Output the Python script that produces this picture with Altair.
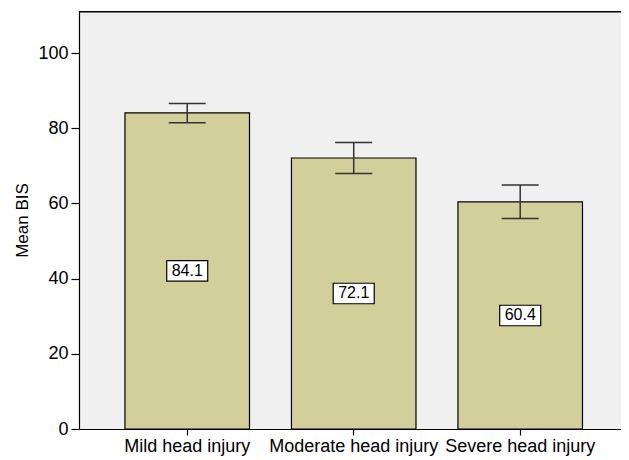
import altair as alt
import pandas as pd

categories = ["Mild head injury", "Moderate head injury", "Severe head injury"]
means = [84.1, 72.1, 60.4]
ci_low = [81.5, 68.0, 56.0]
ci_high = [86.6, 76.2, 64.9]
labels = ["84.1", "72.1", "60.4"]
y_ticks = [0, 20, 40, 60, 80, 100]

df = pd.DataFrame({
    "group": categories,
    "mean": means,
    "low": ci_low,
    "high": ci_high,
    "label": labels,
    "half": [m / 2 for m in means],
})

FONT = "Liberation Sans"
W, H = 542, 418

xs = alt.Scale(paddingInner=0.252, paddingOuter=0.2537, align=0.544)
x = alt.X("group:N", sort=categories, scale=xs,
          axis=alt.Axis(title=None, labelAngle=0, labelFontSize=18, labelColor="black",
                        labelFont=FONT, labelPadding=2, tickSize=6, tickColor="black",
                        domainColor="black", domainWidth=1.2, tickWidth=1.2, grid=False))
xo = alt.X("group:N", sort=categories, scale=xs)
yscale = alt.Scale(domain=[0, 111.2], nice=False, zero=True)

base = alt.Chart(df)

bars = base.mark_bar(fill="#D3CF9A", stroke="black", strokeWidth=1.2).encode(
    x=x,
    y=alt.Y("mean:Q", scale=yscale,
            axis=alt.Axis(title="Mean BIS", values=y_ticks, tickSize=8,
                          labelFontSize=18, labelColor="black", labelFont=FONT, labelPadding=3,
                          titleFontSize=17, titleFont=FONT, titleFontWeight="normal",
                          titleColor="black", titlePadding=6, grid=False,
                          domainColor="black", domainWidth=1.2, tickColor="black", tickWidth=1.2)),
)

err = base.mark_rule(color="#333333", strokeWidth=1.5).encode(
    x=xo, y=alt.Y("low:Q", scale=yscale), y2="high:Q")
cap_lo = base.mark_tick(orient="horizontal", size=37, thickness=1.5, color="#333333", opacity=1).encode(
    x=xo, y=alt.Y("low:Q", scale=yscale))
cap_hi = base.mark_tick(orient="horizontal", size=37, thickness=1.5, color="#333333", opacity=1).encode(
    x=xo, y=alt.Y("high:Q", scale=yscale))

boxes = base.mark_point(shape="M-1,-0.5L1,-0.5L1,0.5L-1,0.5Z", size=41 * 41, filled=True,
                        fill="white", stroke="black", strokeWidth=1.2, opacity=1).encode(
    x=xo, y=alt.Y("half:Q", scale=yscale))
texts = base.mark_text(fontSize=16, font=FONT, color="black", baseline="middle", align="center").encode(
    x=xo, y=alt.Y("half:Q", scale=yscale), text="label:N")

top = alt.Chart(pd.DataFrame({"k": [0]})).mark_rule(color="black", strokeWidth=1.5).encode(
    x=alt.value(0), x2=alt.value(W), y=alt.value(0.75))

chart = alt.layer(bars, err, cap_lo, cap_hi, boxes, texts, top).properties(
    width=W, height=H,
    autosize=alt.AutoSizeParams(type="none"),
    padding={"left": 71, "top": 3, "right": 0, "bottom": 28},
).configure_view(fill="#F0F0F0", stroke=None)

chart.save("out.html", embed_options={"renderer": "svg", "actions": False})
